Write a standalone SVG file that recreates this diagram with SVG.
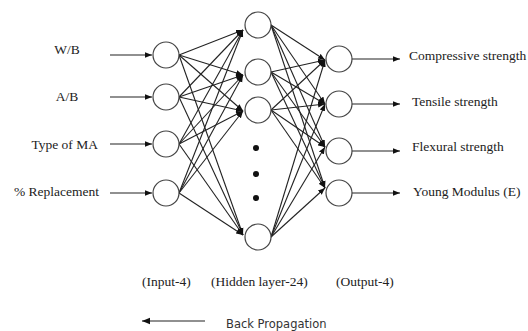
<svg xmlns="http://www.w3.org/2000/svg" width="528" height="331" viewBox="0 0 528 331">
<defs>
<marker id="ah" viewBox="0 0 10 10" refX="10" refY="5" markerWidth="7" markerHeight="7" markerUnits="userSpaceOnUse" orient="auto"><path d="M0,1 L10,5 L0,9 z" fill="#111"/></marker>
<marker id="ah2" viewBox="0 0 10 10" refX="10" refY="5" markerWidth="8" markerHeight="8" markerUnits="userSpaceOnUse" orient="auto"><path d="M0,1 L10,5 L0,9 z" fill="#111"/></marker>
</defs>
<style>
.n{fill:#fff;stroke:#444;stroke-width:1.2}
.c line{stroke:#222;stroke-width:1.1;marker-end:url(#ah)}
.t{font-family:"Liberation Serif","Times New Roman",serif;font-size:13.5px;fill:#222}
.s{font-family:"DejaVu Sans","Liberation Sans",sans-serif;font-size:11.5px;fill:#333}
</style>
<rect width="528" height="331" fill="#fff"/>
<g class="c" id="connectors">
<line x1="110" y1="55" x2="152" y2="55"/>
<line x1="110" y1="97" x2="152" y2="97"/>
<line x1="110" y1="144" x2="152" y2="144"/>
<line x1="110" y1="193" x2="152" y2="193"/>
<line x1="179" y1="55" x2="243" y2="30"/>
<line x1="179" y1="55" x2="243" y2="75"/>
<line x1="179" y1="55" x2="243" y2="111"/>
<line x1="179" y1="55" x2="243" y2="235"/>
<line x1="179" y1="97" x2="243" y2="30"/>
<line x1="179" y1="97" x2="243" y2="75"/>
<line x1="179" y1="97" x2="243" y2="111"/>
<line x1="179" y1="97" x2="243" y2="235"/>
<line x1="179" y1="144" x2="243" y2="30"/>
<line x1="179" y1="144" x2="243" y2="75"/>
<line x1="179" y1="144" x2="243" y2="111"/>
<line x1="179" y1="144" x2="243" y2="235"/>
<line x1="179" y1="193" x2="243" y2="30"/>
<line x1="179" y1="193" x2="243" y2="75"/>
<line x1="179" y1="193" x2="243" y2="111"/>
<line x1="179" y1="193" x2="243" y2="235"/>
<line x1="271" y1="25" x2="325" y2="60"/>
<line x1="271" y1="25" x2="325" y2="104"/>
<line x1="271" y1="25" x2="325" y2="147"/>
<line x1="271" y1="25" x2="325" y2="188"/>
<line x1="271" y1="72" x2="325" y2="60"/>
<line x1="271" y1="72" x2="325" y2="104"/>
<line x1="271" y1="72" x2="325" y2="147"/>
<line x1="271" y1="72" x2="325" y2="188"/>
<line x1="271" y1="110" x2="325" y2="60"/>
<line x1="271" y1="110" x2="325" y2="104"/>
<line x1="271" y1="110" x2="325" y2="147"/>
<line x1="271" y1="110" x2="325" y2="188"/>
<line x1="271" y1="237" x2="325" y2="60"/>
<line x1="271" y1="237" x2="325" y2="104"/>
<line x1="271" y1="237" x2="325" y2="147"/>
<line x1="271" y1="237" x2="325" y2="188"/>
<line x1="352" y1="59" x2="400" y2="59"/>
<line x1="352" y1="104" x2="400" y2="104"/>
<line x1="352" y1="151" x2="400" y2="151"/>
<line x1="352" y1="193" x2="400" y2="193"/>
<line x1="205" y1="321" x2="142" y2="321" style="marker-end:url(#ah2)"/>
</g>
<g id="in1"><circle class="n" cx="166" cy="55" r="13"/><text class="t" x="67" y="54" text-anchor="middle">W/B</text></g>
<g id="in2"><circle class="n" cx="166" cy="97" r="13"/><text class="t" x="67" y="101" text-anchor="middle">A/B</text></g>
<g id="in3"><circle class="n" cx="166" cy="144" r="13"/><text class="t" x="98" y="149" text-anchor="end">Type of MA</text></g>
<g id="in4"><circle class="n" cx="166" cy="193" r="13"/><text class="t" x="99" y="196" text-anchor="end">% Replacement</text></g>
<g id="h1"><circle class="n" cx="258" cy="25" r="13"/></g>
<g id="h2"><circle class="n" cx="258" cy="72" r="13"/></g>
<g id="h3"><circle class="n" cx="258" cy="110" r="13"/></g>
<g id="hdots"><circle cx="256" cy="148" r="3" fill="#111"/><circle cx="256" cy="174" r="3" fill="#111"/><circle cx="256" cy="198" r="3" fill="#111"/></g>
<g id="h24"><circle class="n" cx="258" cy="237" r="13"/></g>
<g id="o1"><circle class="n" cx="339" cy="59" r="13"/><text class="t" x="409" y="60">Compressive strength</text></g>
<g id="o2"><circle class="n" cx="339" cy="104" r="13"/><text class="t" x="412" y="106">Tensile strength</text></g>
<g id="o3"><circle class="n" cx="339" cy="151" r="13"/><text class="t" x="412" y="151">Flexural strength</text></g>
<g id="o4"><circle class="n" cx="339" cy="193" r="13"/><text class="t" x="413" y="196">Young Modulus (E)</text></g>
<g id="labels">
<text class="t" x="142" y="286">(Input-4)</text>
<text class="t" x="211" y="286">(Hidden layer-24)</text>
<text class="t" x="336" y="286">(Output-4)</text>
<text class="s" x="226" y="328">Back Propagation</text>
</g>
</svg>
